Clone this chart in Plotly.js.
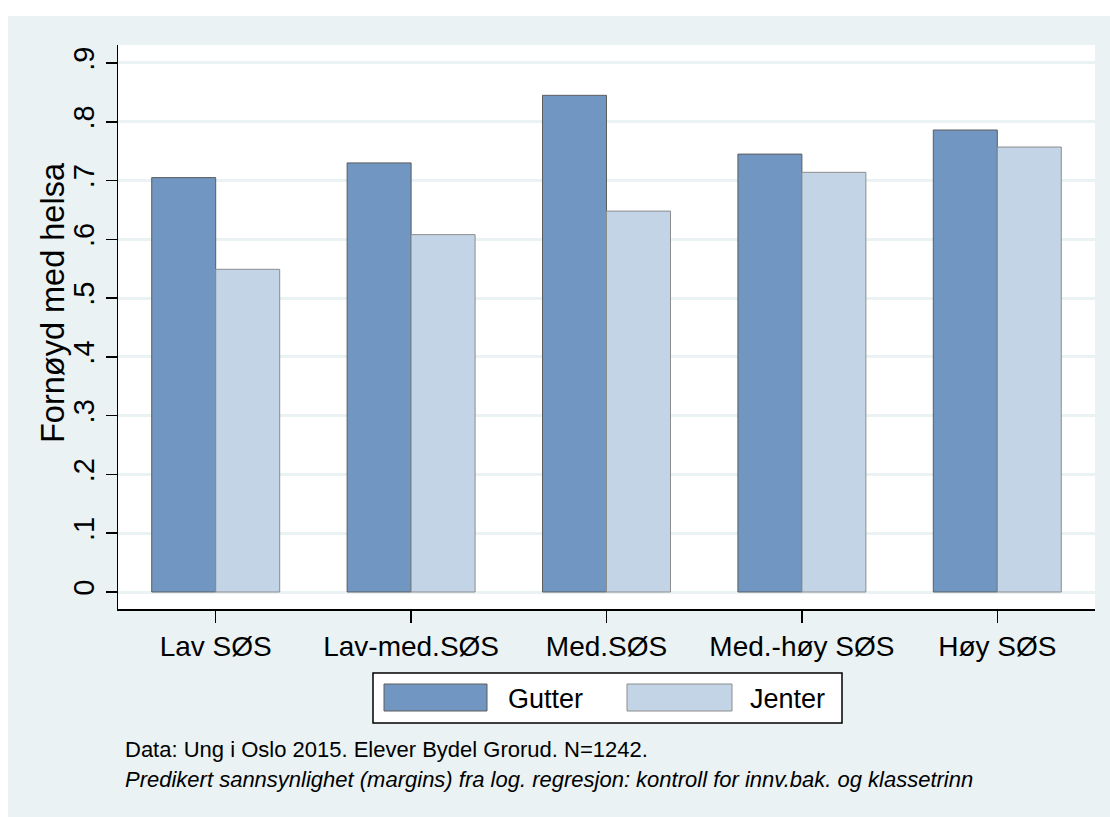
<!DOCTYPE html>
<html>
<head>
<meta charset="utf-8">
<script src="https://cdn.plot.ly/plotly-3.0.1.min.js"></script>
<style>
  html, body { margin: 0; padding: 0; background: #ffffff; }
  #chart { position: absolute; left: 8px; top: 16px; width: 1102px; height: 801px; }
</style>
</head>
<body>
<div id="chart"></div>
<script>
// data
const categories = ['Lav SØS', 'Lav-med.SØS', 'Med.SØS', 'Med.-høy SØS', 'Høy SØS'];
const seriesNames = ['Gutter', 'Jenter'];
const gutter = [0.705, 0.730, 0.845, 0.745, 0.786];
const jenter = [0.549, 0.608, 0.648, 0.714, 0.757];
const tickVals = [0, 0.1, 0.2, 0.3, 0.4, 0.5, 0.6, 0.7, 0.8, 0.9];
const tickText = ['0', '.1', '.2', '.3', '.4', '.5', '.6', '.7', '.8', '.9'];
const yTitle = 'Fornøyd med helsa';
const note1 = 'Data: Ung i Oslo 2015. Elever Bydel Grorud. N=1242.';
const note2 = '<i>Predikert sannsynlighet (margins) fra log. regresjon: kontroll for innv.bak. og klassetrinn</i>';

const colors = ['#7096c1', '#c3d4e6'];
const edges = ['#5c5c5c', '#8c8c8c'];
const FONT = '"Liberation Sans", Arial, sans-serif';

// page pixel -> paper coords (plot area: x 118..1095, y 45..609)
const px = x => (x - 118) / 977;
const py = y => (609 - y) / 564;

const x = categories.map((c, i) => i);

const traces = [gutter, jenter].map((vals, k) => ({
    type: 'bar',
    x: x,
    y: vals,
    name: seriesNames[k],
    marker: { color: colors[k], line: { color: edges[k], width: 1 } },
    hoverinfo: 'y'
}));

// Stata-style legend box
const shapes = [
    { type: 'rect', xref: 'paper', yref: 'paper', x0: px(373), x1: px(842), y0: py(673), y1: py(723),
      fillcolor: '#ffffff', line: { color: '#000000', width: 1.5 } },
    { type: 'rect', xref: 'paper', yref: 'paper', x0: px(384), x1: px(487), y0: py(684), y1: py(711),
      fillcolor: colors[0], line: { color: edges[0], width: 1 } },
    { type: 'rect', xref: 'paper', yref: 'paper', x0: px(627), x1: px(732), y0: py(684), y1: py(711),
      fillcolor: colors[1], line: { color: edges[1], width: 1 } }
];

const annotations = [
    { text: seriesNames[0], xref: 'paper', yref: 'paper', x: px(506), y: py(699), xanchor: 'left', yanchor: 'middle',
      showarrow: false, font: { family: FONT, size: 27, color: '#000' } },
    { text: seriesNames[1], xref: 'paper', yref: 'paper', x: px(748), y: py(699), xanchor: 'left', yanchor: 'middle',
      showarrow: false, font: { family: FONT, size: 27, color: '#000' } },
    { text: note1, xref: 'paper', yref: 'paper', x: px(123), y: py(749), xanchor: 'left', yanchor: 'middle',
      showarrow: false, font: { family: FONT, size: 22, color: '#000' } },
    { text: note2, xref: 'paper', yref: 'paper', x: px(123), y: py(779), xanchor: 'left', yanchor: 'middle',
      showarrow: false, font: { family: FONT, size: 22, color: '#000' } },
    { text: yTitle, xref: 'paper', yref: 'paper', x: px(53), y: py(303), xanchor: 'center', yanchor: 'middle',
      textangle: -90, showarrow: false, font: { family: FONT, size: 32.5, color: '#000' } }
];

const layout = {
    width: 1102,
    height: 801,
    margin: { l: 110, r: 15, t: 29, b: 208, pad: 0 },
    paper_bgcolor: '#eaf2f3',
    plot_bgcolor: '#ffffff',
    font: { family: FONT, color: '#000' },
    barmode: 'group',
    bargap: 0.345,
    bargroupgap: 0,
    showlegend: false,
    xaxis: {
        range: [-0.5, 4.5],
        tickvals: x,
        ticktext: categories,
        showgrid: false,
        zeroline: false,
        showline: true,
        linecolor: '#000',
        linewidth: 1.5,
        ticks: 'outside',
        ticklen: 12,
        tickwidth: 1.5,
        tickcolor: '#000',
        tickfont: { family: FONT, size: 28, color: '#000' },
        fixedrange: true
    },
    yaxis: {
        range: [-0.0289, 0.9306],
        tickvals: tickVals,
        ticktext: tickText,
        tickangle: -90,
        showgrid: true,
        gridcolor: '#eaf2f3',
        gridwidth: 3,
        zeroline: false,
        showline: true,
        linecolor: '#000',
        linewidth: 1.5,
        ticks: 'outside',
        ticklen: 11,
        tickwidth: 1.5,
        tickcolor: '#000',
        tickfont: { family: FONT, size: 29, color: '#000' },
        fixedrange: true
    },
    shapes: shapes,
    annotations: annotations
};

Plotly.newPlot('chart', traces, layout, { displayModeBar: false, staticPlot: true });
</script>
</body>
</html>
